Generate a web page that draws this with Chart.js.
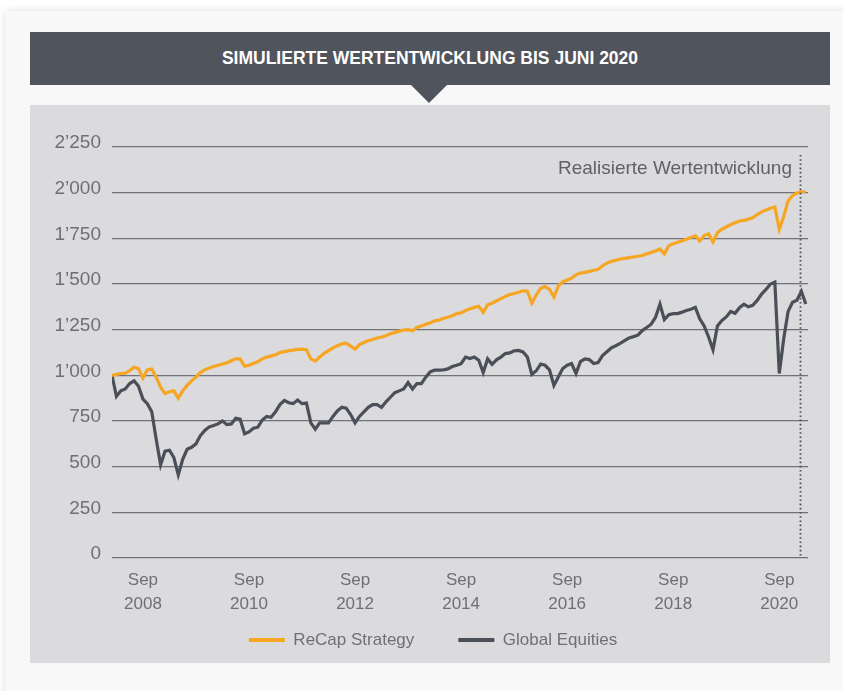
<!DOCTYPE html>
<html>
<head>
<meta charset="utf-8">
<script src="https://cdn.jsdelivr.net/npm/chart.js@4.4.0/dist/chart.umd.min.js"></script>
<style>
  html, body { margin: 0; padding: 0; }
  body { width: 843px; height: 691px; overflow: hidden; position: relative; background: #fff;
         font-family: "Liberation Sans", Arial, sans-serif; }
  .card { position: absolute; left: 5px; top: 11px; width: 860px; height: 700px; background: #f8f8f8;
          box-shadow: 0 0 8px rgba(0,0,0,0.13); }
  .header { position: absolute; left: 30px; top: 32px; width: 800px; height: 53px; background: #50545c;
            color: #fff; font-weight: bold; font-size: 17.5px; line-height: 53px; text-align: center; }
  .arrow { position: absolute; left: 411px; top: 85px; width: 0; height: 0;
           border-left: 18px solid transparent; border-right: 18px solid transparent; border-top: 18px solid #50545c; }
  .panel { position: absolute; left: 30px; top: 105px; width: 800px; height: 558px; background: #dbdadc; }
  .chart-box { position: absolute; left: 30px; top: 105px; width: 800px; height: 580px; }
</style>
</head>
<body>
<div class="card"></div>
<div class="header">SIMULIERTE WERTENTWICKLUNG BIS JUNI 2020</div>
<div class="arrow"></div>
<div class="panel"></div>
<div class="chart-box"><canvas id="perf" width="800" height="580"></canvas></div>

<script>
// monthly values, first point = Feb 2008
var startYear = 2008, startMonth = 2;

var recap = [
  1000, 1005, 1010, 1012, 1025, 1045, 1036, 985, 1030, 1035,
  990, 935, 900, 910, 915, 875, 915, 945, 970, 990,
  1015, 1030, 1040, 1048, 1055, 1062, 1068, 1080, 1090, 1090,
  1050, 1055, 1065, 1075, 1090, 1100, 1105, 1112, 1125, 1130,
  1135, 1138, 1142, 1143, 1140, 1090, 1078, 1100, 1120, 1135,
  1150, 1162, 1172, 1176, 1160, 1143, 1168, 1180, 1190, 1196,
  1204, 1210, 1217, 1228, 1235, 1242, 1248, 1250, 1244, 1262,
  1270, 1280, 1287, 1298, 1302, 1312, 1318, 1326, 1338, 1342,
  1355, 1365, 1372, 1378, 1345, 1386, 1395, 1408, 1420, 1432,
  1442, 1448, 1455, 1463, 1460, 1395, 1440, 1476, 1486, 1470,
  1428, 1490, 1512, 1522, 1532, 1550, 1560, 1564, 1569, 1575,
  1580, 1600, 1614, 1624, 1630, 1636, 1640, 1644, 1648, 1652,
  1656, 1665, 1672, 1681, 1692, 1665, 1710, 1720, 1728, 1737,
  1745, 1755, 1764, 1735, 1765, 1775, 1730, 1780, 1800, 1812,
  1825, 1835, 1845, 1848, 1855, 1862, 1880, 1895, 1905, 1915,
  1922, 1800, 1870, 1955, 1985, 1998, 2005, 2005
];

var equities = [
  1000, 885, 915, 925, 955, 970, 940, 870, 845, 800,
  650, 510, 585, 590, 550, 455, 540, 595, 606, 625,
  670, 698, 718, 725, 734, 750, 730, 734, 765, 760,
  680, 690, 710, 716, 755, 775, 770, 800, 840, 862,
  850, 845, 865, 845, 848, 740, 705, 740, 740, 740,
  775, 805, 825, 820, 785, 740, 775, 800, 825, 840,
  840, 825, 855, 880, 905, 915, 925, 960, 925, 955,
  955, 990, 1019, 1028, 1028, 1030, 1035, 1048, 1055, 1064,
  1100, 1092, 1100, 1083, 1015, 1090, 1060, 1085, 1100, 1119,
  1123, 1134, 1136, 1128, 1100, 1005, 1025, 1062, 1055, 1030,
  945, 991, 1037, 1055, 1064, 1010, 1075, 1090, 1086, 1065,
  1070, 1108, 1129, 1150, 1162, 1175, 1190, 1205, 1212, 1220,
  1245, 1262, 1280, 1318, 1390, 1305, 1332, 1338, 1338, 1346,
  1355, 1362, 1372, 1310, 1270, 1210, 1140, 1270, 1300, 1320,
  1350, 1340, 1370, 1390, 1375, 1383, 1410, 1445, 1470, 1500,
  1510, 1010, 1200, 1350, 1400, 1411, 1460, 1390
];

var seriesNames = ['ReCap Strategy', 'Global Equities'];
var tickYears = [2008, 2010, 2012, 2014, 2016, 2018, 2020];
var tickMonth = 'Sep';
var yTicks = [0, 250, 500, 750, 1000, 1250, 1500, 1750, 2000, 2250];
var realizedStart = 2021.05;
var realizedLabel = 'Realisierte Wertentwicklung';

var orange = '#f6a623';
var dark = '#4b4f58';
var textGrey = '#6e7077';
var fontFamily = '"Liberation Sans", Arial, sans-serif';

function toPoints(values) {
  return values.map(function (v, i) {
    return { x: startYear + (startMonth - 1 + i) / 12, y: v };
  });
}

function fmt(v) {
  if (v < 1000) return String(v);
  var rest = String(v % 1000);
  while (rest.length < 3) rest = '0' + rest;
  return Math.floor(v / 1000) + '\u2019' + rest;
}

// dotted line + label for the realised period
var realizedMarker = {
  id: 'realizedMarker',
  afterDatasetsDraw: function (chart) {
    var ctx = chart.ctx, area = chart.chartArea;
    var x = Math.round(chart.scales.x.getPixelForValue(realizedStart)) + 0.5;
    ctx.save();
    ctx.strokeStyle = dark;
    ctx.lineWidth = 1.8;
    ctx.setLineDash([1.6, 2.6]);
    ctx.beginPath();
    ctx.moveTo(x, area.top + 8);
    ctx.lineTo(x, area.bottom);
    ctx.stroke();
    ctx.setLineDash([]);
    ctx.fillStyle = '#5f6269';
    ctx.font = '19px ' + fontFamily;
    ctx.textAlign = 'right';
    ctx.textBaseline = 'alphabetic';
    ctx.fillText(realizedLabel, x - 8.5, area.top + 26.5);
    ctx.restore();
  }
};

// pull the legend row up closer to the axis labels (padding is also the item gap)
var legendLift = {
  id: 'legendLift',
  afterLayout: function (chart) {
    var lg = chart.legend;
    var h = lg.bottom - lg.top;
    lg.top = 482.5;
    lg.bottom = lg.top + h;
    lg.left += 14;
    lg.right += 14;
  }
};

var chart = new Chart(document.getElementById('perf'), {
  type: 'line',
  data: {
    datasets: [{
      label: seriesNames[0],
      data: toPoints(recap),
      borderColor: orange,
      backgroundColor: orange,
      borderWidth: 3.2,
      pointRadius: 0,
      tension: 0
    }, {
      label: seriesNames[1],
      data: toPoints(equities),
      borderColor: dark,
      backgroundColor: dark,
      borderWidth: 3.2,
      pointRadius: 0,
      tension: 0
    }]
  },
  options: {
    responsive: false,
    animation: false,
    layout: { padding: { top: 42, right: 22, left: 0, bottom: 0 } },
    plugins: {
      tooltip: { enabled: false },
      legend: {
        position: 'bottom',
        labels: {
          boxWidth: 36,
          boxHeight: 4,
          padding: 44,
          color: textGrey,
          font: { family: fontFamily, size: 17 },
          generateLabels: function (chart) {
            return chart.data.datasets.map(function (ds, i) {
              return {
                text: ds.label,
                fillStyle: ds.borderColor,
                strokeStyle: ds.borderColor,
                lineWidth: 0,
                fontColor: textGrey,
                datasetIndex: i
              };
            });
          }
        }
      }
    },
    scales: {
      x: {
        type: 'linear',
        min: startYear + 1 / 12,
        max: startYear + 158.5 / 12,
        grid: { display: false },
        border: { display: false },
        afterBuildTicks: function (scale) {
          scale.ticks = tickYears.map(function (y) { return { value: y + 8 / 12 }; });
        },
        afterFit: function (scale) { scale.height = 56; },
        ticks: {
          autoSkip: false,
          maxRotation: 0,
          padding: 3,
          color: textGrey,
          font: { family: fontFamily, size: 17, lineHeight: 1.37 },
          callback: function (value) {
            return [tickMonth, String(Math.round(value - 8 / 12))];
          }
        }
      },
      y: {
        min: 0,
        max: 2250,
        afterBuildTicks: function (scale) {
          scale.ticks = yTicks.map(function (v) { return { value: v }; });
        },
        afterFit: function (scale) { scale.width = 82; },
        grid: { color: '#707278', lineWidth: 1.3, drawTicks: false },
        border: { display: false },
        ticks: {
          padding: 11,
          labelOffset: -4,
          color: textGrey,
          font: { family: fontFamily, size: 19 },
          callback: function (value) { return fmt(value); }
        }
      }
    }
  },
  plugins: [realizedMarker, legendLift]
});
</script>
</body>
</html>
